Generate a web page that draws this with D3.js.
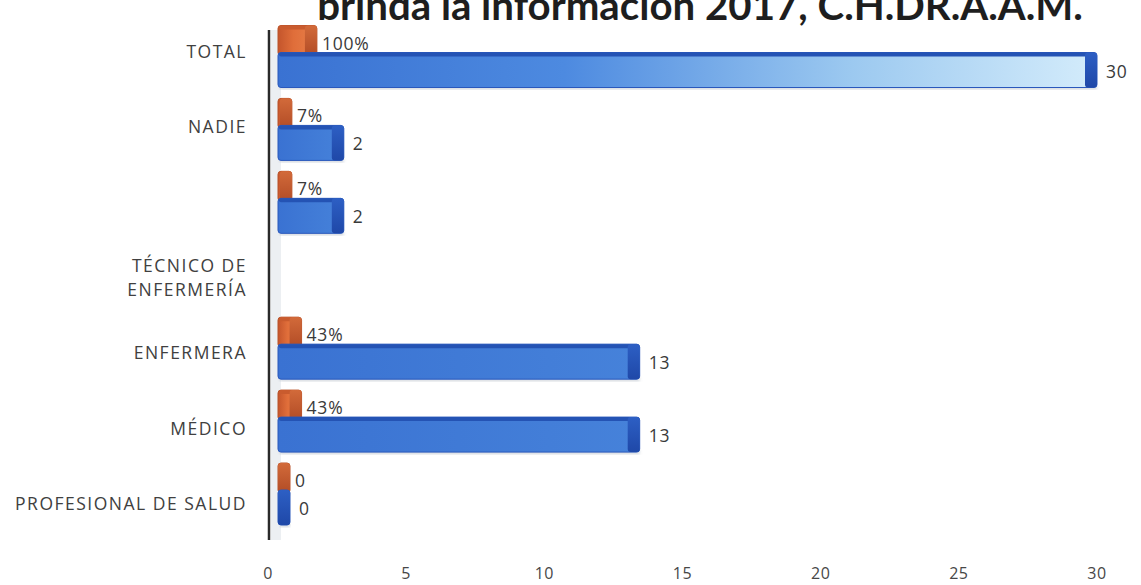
<!DOCTYPE html>
<html>
<head>
<meta charset="utf-8">
<script src="https://cdn.jsdelivr.net/npm/d3@7"></script>
<style>
  html, body { margin: 0; padding: 0; background: #fff; }
  svg { display: block; font-family: "Open Sans", "Liberation Sans", sans-serif; }
</style>
</head>
<body>
<svg id="chart" width="1141" height="585"></svg>
<script>
// Categories, top to bottom
const categories = ["TOTAL", "NADIE", "", "TÉCNICO DE\nENFERMERÍA", "ENFERMERA", "MÉDICO", "PROFESIONAL DE SALUD"];
// Number of people per category (null = no bar drawn)
const counts = [30, 2, 2, null, 13, 13, 0];
// Share of the total, plotted as a fraction on the same axis
const shares = [1.00, 0.07, 0.07, null, 0.43, 0.43, 0];
const shareLabels = ["100%", "7%", "7%", null, "43%", "43%", "0"];
const countLabels = ["30", "2", "2", null, "13", "13", "0"];
const xTicks = [0, 5, 10, 15, 20, 25, 30];
const titleText = "brinda la información 2017, C.H.DR.A.A.M.";

const svg = d3.select("#chart");

const xAxisScale = d3.scaleLinear().domain([0, 30]).range([268, 1097]);
const xBar = d3.scaleLinear().domain([0, 30]).range([278, 1085]);
const CAP = 12;
const yBar = d3.scalePoint().domain(categories).range([56.5, 494]);
const yLab = d3.scalePoint().domain(categories).range([51, 503]);

const defs = svg.append("defs");
function grad(id, stops, vertical) {
  const g = defs.append("linearGradient").attr("id", id)
    .attr("x1", "0%").attr("y1", "0%")
    .attr("x2", vertical ? "0%" : "100%").attr("y2", vertical ? "100%" : "0%");
  stops.forEach(s => g.append("stop").attr("offset", s[0]).attr("stop-color", s[1]));
}
grad("blueBody", [["0%", "#3a72d2"], ["100%", "#4682da"]]);
grad("blueTotal", [["0%", "#3a72d2"], ["35%", "#4d8ae0"], ["70%", "#9cc9f0"], ["100%", "#d4ecfb"]]);
grad("orangeBody", [["0%", "#c4552c"], ["40%", "#e06e3a"], ["100%", "#e8804a"]]);
grad("blueCap", [["0%", "#2d5fc4"], ["100%", "#1f48a8"]], true);
grad("orangeCap", [["0%", "#d26a3a"], ["100%", "#b24c26"]], true);
defs.append("filter").attr("id", "soft").append("feGaussianBlur").attr("stdDeviation", 1.5);

// Title (its upper part runs past the top edge)
const title = svg.append("text")
  .attr("x", 700).attr("y", 20)
  .attr("text-anchor", "middle")
  .attr("font-family", "Lato, 'Open Sans', sans-serif")
  .attr("font-size", 34).attr("font-weight", 700)
  .attr("fill", "#1e1e1e")
  .text(titleText);
const tw = title.node().getComputedTextLength();
title.attr("font-size", 34 * 766 / tw);

// Side wall strip and vertical axis
svg.append("rect").attr("x", 271).attr("y", 30).attr("width", 10).attr("height", 510)
  .attr("fill", "#eceff2");
svg.append("line").attr("x1", 270).attr("x2", 270).attr("y1", 30).attr("y2", 540)
  .attr("stroke", "#8a8a8a").attr("stroke-width", 5).attr("filter", "url(#soft)");
svg.append("line").attr("x1", 269).attr("x2", 269).attr("y1", 30).attr("y2", 540)
  .attr("stroke", "#2a2a2a").attr("stroke-width", 2.5);

// x tick labels
svg.append("g").selectAll("text").data(xTicks).join("text")
  .attr("x", d => xAxisScale(d)).attr("y", 573)
  .attr("text-anchor", "middle").attr("dominant-baseline", "central")
  .attr("font-size", 16).attr("fill", "#474747").attr("letter-spacing", 0.5)
  .text(d => d);

// Category labels
const labG = svg.append("g");
categories.forEach(c => {
  const lines = c.split("\n");
  const t = labG.append("text")
    .attr("text-anchor", "end")
    .attr("font-size", 17.5).attr("fill", "#404040")
    .attr("letter-spacing", 1.5);
  lines.forEach((ln, i) => {
    t.append("tspan").attr("x", 247)
      .attr("y", yLab(c) + (i - (lines.length - 1) / 2) * 24)
      .attr("dominant-baseline", "central")
      .text(ln);
  });
});

// 3D-style bar: body, top face and right end cap
function drawBar(g, v, top, h, body, cap, topCol, edge) {
  const x0 = xBar(0), x1 = xBar(v);
  g.append("rect").attr("x", x0 + 2).attr("y", top + h - 2).attr("width", x1 - x0 + CAP - 2).attr("height", 4)
    .attr("fill", "#9aa4b2").attr("opacity", 0.45).attr("filter", "url(#soft)");
  g.append("rect").attr("x", x0).attr("y", top).attr("width", x1 - x0 + CAP).attr("height", h)
    .attr("rx", 3).attr("fill", body).attr("stroke", edge).attr("stroke-width", 1);
  g.append("rect").attr("x", x0 + 1).attr("y", top).attr("width", x1 - x0 + CAP - 2).attr("height", 4)
    .attr("rx", 2).attr("fill", topCol);
  g.append("rect").attr("x", x1).attr("y", top).attr("width", CAP).attr("height", h)
    .attr("rx", 3).attr("fill", cap);
}

const barG = svg.append("g");
categories.forEach((c, i) => {
  const cy = yBar(c);
  if (shares[i] != null) {
    drawBar(barG, shares[i], cy - 31, 30, "url(#orangeBody)", "url(#orangeCap)", "#c95b2e", "#b9532a");
    barG.append("text")
      .attr("x", xBar(shares[i]) + CAP + 5).attr("y", cy - 14)
      .attr("dominant-baseline", "central")
      .attr("font-size", 17.5).attr("fill", "#3a3a3a").attr("letter-spacing", 0.8)
      .text(shareLabels[i]);
  }
  if (counts[i] != null) {
    const body = counts[i] === 30 ? "url(#blueTotal)" : "url(#blueBody)";
    drawBar(barG, counts[i], cy - 4, 35, body, "url(#blueCap)", "#2453b4", "#2a58bc");
    barG.append("text")
      .attr("x", xBar(counts[i]) + CAP + 9).attr("y", cy + 14)
      .attr("dominant-baseline", "central")
      .attr("font-size", 17.5).attr("fill", "#3a3a3a").attr("letter-spacing", 0.8)
      .text(countLabels[i]);
  }
});
</script>
</body>
</html>
